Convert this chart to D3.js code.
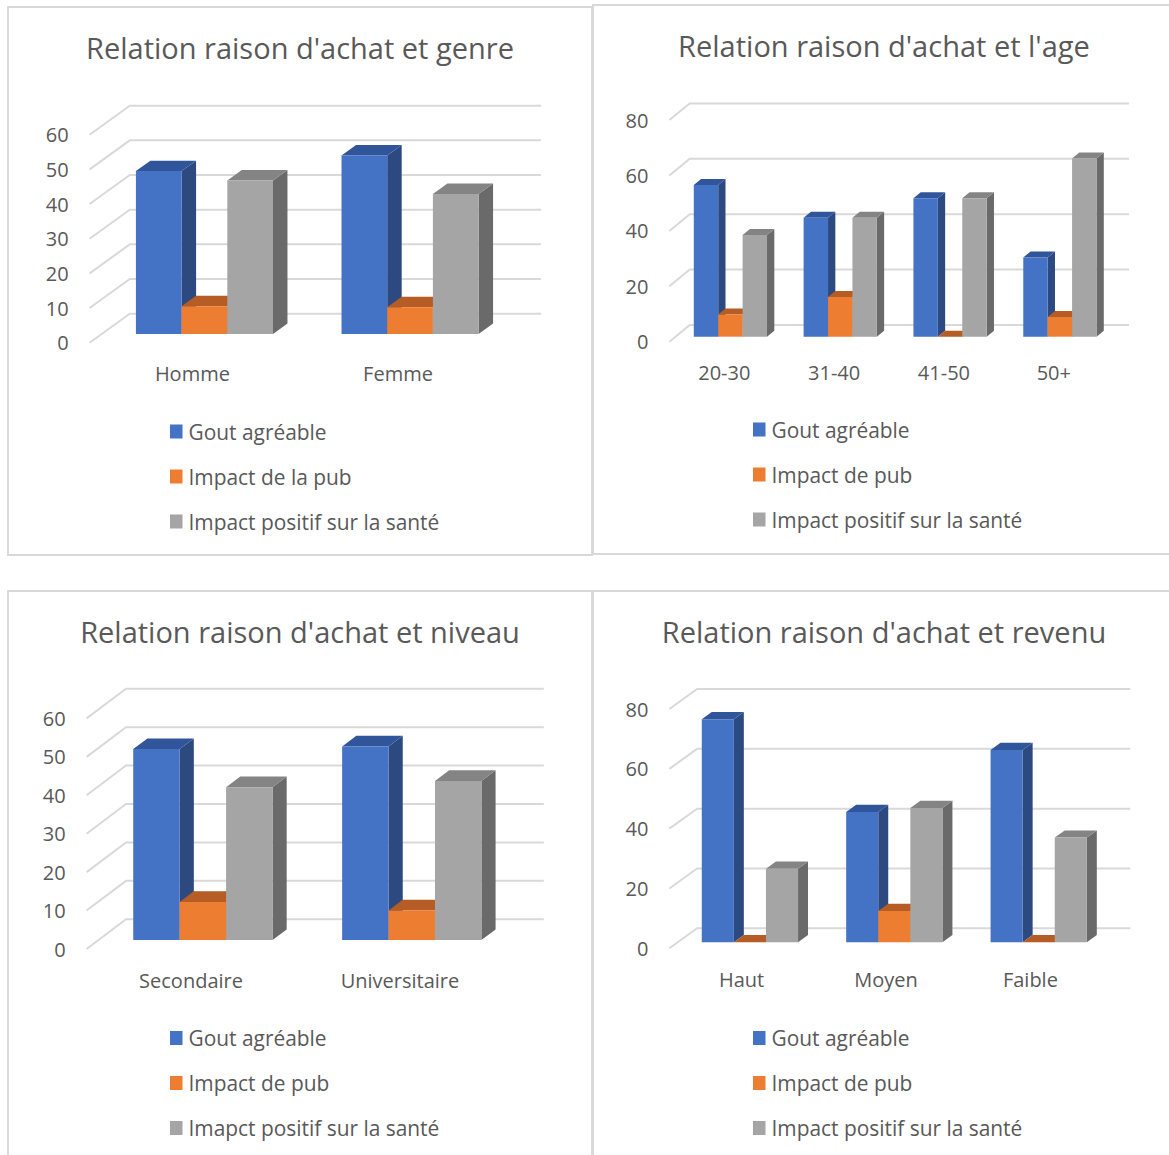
<!DOCTYPE html>
<html>
<head>
<meta charset="utf-8">
<script src="https://cdn.jsdelivr.net/npm/d3@7"></script>
<style>
  html, body { margin: 0; padding: 0; background: #fff; }
  svg { display: block; }
  text { font-family: "Open Sans", sans-serif; fill: #595959; }
</style>
</head>
<body>
<svg id="chart" width="1169" height="1155"></svg>
<script>
// ---- Data ----
const seriesGenre  = ["Gout agréable", "Impact de la pub", "Impact positif sur la santé"];
const seriesAge    = ["Gout agréable", "Impact de pub", "Impact positif sur la santé"];
const seriesNiveau = ["Gout agréable", "Impact de pub", "Imapct positif sur la santé"];
const seriesRevenu = ["Gout agréable", "Impact de pub", "Impact positif sur la santé"];

const catsGenre  = ["Homme", "Femme"];
const catsAge    = ["20-30", "31-40", "41-50", "50+"];
const catsNiveau = ["Secondaire", "Universitaire"];
const catsRevenu = ["Haut", "Moyen", "Faible"];

const genreGout   = [47, 51.5];
const genrePub    = [8, 7.7];
const genreSante  = [44.3, 40.4];

const ageGout     = [54.8, 42.9, 50, 28.6];
const agePub      = [8, 14.3, 0, 7.1];
const ageSante    = [36.7, 42.9, 50, 64.3];

const niveauGout  = [49.7, 50.4];
const niveauPub   = [9.9, 7.7];
const niveauSante = [39.8, 41.4];

const revenuGout  = [74.6, 43.6, 64.3];
const revenuPub   = [0, 10.5, 0];
const revenuSante = [24.6, 44.9, 35];

const ticksGenre  = [0, 10, 20, 30, 40, 50, 60];
const ticksAge    = [0, 20, 40, 60, 80];
const ticksNiveau = [0, 10, 20, 30, 40, 50, 60];
const ticksRevenu = [0, 20, 40, 60, 80];

const titles = [
  "Relation raison d'achat et genre",
  "Relation raison d'achat et l'age",
  "Relation raison d'achat et niveau",
  "Relation raison d'achat et revenu"
];

// ---- Styling ----
const faceColors = [
  { front: "#4472C4", top: "#30559A", side: "#2C4A80" },
  { front: "#ED7D31", top: "#B55D24", side: "#A3521E" },
  { front: "#A5A5A5", top: "#848484", side: "#6A6A6A" }
];
const gridColor = "#d9d9d9";

// ---- Panel layout (frame, floor origin, plot size, depth vector) ----
const panels = [
  { title: titles[0], cats: catsGenre, series: seriesGenre, values: [genreGout, genrePub, genreSante], ticks: ticksGenre,
    frame: [8, 7, 584, 548], titleX: 300, titleY: 47,
    x0: 89.6, y0: 342.7, w: 411.2, h: 208, dx: 40.2, dy: -29, legendX: 170, legendY: 431.5 },
  { title: titles[1], cats: catsAge, series: seriesAge, values: [ageGout, agePub, ageSante], ticks: ticksAge,
    frame: [593, 5, 580, 549], titleX: 884, titleY: 45,
    x0: 669.4, y0: 341.7, w: 439.3, h: 221.6, dx: 20.3, dy: -16.7, legendX: 753, legendY: 429.5 },
  { title: titles[2], cats: catsNiveau, series: seriesNiveau, values: [niveauGout, niveauPub, niveauSante], ticks: ticksNiveau,
    frame: [8, 591, 584, 580], titleX: 300, titleY: 631.5,
    x0: 86.6, y0: 949, w: 417.8, h: 230.6, dx: 39.4, dy: -29.7, legendX: 170, legendY: 1038 },
  { title: titles[3], cats: catsRevenu, series: seriesRevenu, values: [revenuGout, revenuPub, revenuSante], ticks: ticksRevenu,
    frame: [593, 591, 580, 580], titleX: 884, titleY: 631.5,
    x0: 669.4, y0: 948.3, w: 433.2, h: 239.3, dx: 27.7, dy: -20, legendX: 753, legendY: 1038 }
];

const svg = d3.select("#chart");
const DEPTH_FRONT = 0.3, DEPTH_BACK = 0.66;

panels.forEach(p => {
  const g = svg.append("g");

  // chart frame
  g.append("rect")
    .attr("x", p.frame[0]).attr("y", p.frame[1])
    .attr("width", p.frame[2]).attr("height", p.frame[3])
    .attr("fill", "none").attr("stroke", gridColor).attr("stroke-width", 2);

  // title
  g.append("text")
    .attr("x", p.titleX).attr("y", p.titleY)
    .attr("text-anchor", "middle").attr("dominant-baseline", "central")
    .style("font-size", "29px")
    .text(p.title);

  const maxV = p.ticks[p.ticks.length - 1];
  const y = d3.scaleLinear().domain([0, maxV]).range([0, p.h]);
  const xCat = d3.scaleBand().domain(p.cats).range([0, p.w])
    .paddingInner(1 / 3).paddingOuter(1 / 6);
  const xSer = d3.scaleBand().domain(d3.range(p.series.length))
    .range([0, xCat.bandwidth()]).padding(0);

  // projected point: x along floor, value v, depth fraction f
  const pt = (x, v, f) => [p.x0 + x + f * p.dx, p.y0 - y(v) + f * p.dy];

  // gridlines: back wall lines + left wall diagonals
  const grid = g.append("g").attr("stroke", gridColor).attr("stroke-width", 2).attr("fill", "none");
  p.ticks.forEach(t => {
    const a = pt(0, t, 0), b = pt(0, t, 1), c = pt(p.w, t, 1);
    grid.append("path").attr("d", d3.line()([a, b, c]));
  });

  // value axis labels
  g.append("g").selectAll("text").data(p.ticks).join("text")
    .attr("x", p.x0 - 21)
    .attr("y", d => p.y0 - y(d))
    .attr("text-anchor", "end").attr("dominant-baseline", "central")
    .style("font-size", "20px")
    .text(d => d);

  // category labels
  g.append("g").selectAll("text").data(p.cats).join("text")
    .attr("x", d => p.x0 + xCat(d) + xCat.bandwidth() / 2)
    .attr("y", p.y0 + 31)
    .attr("text-anchor", "middle").attr("dominant-baseline", "central")
    .style("font-size", "20px")
    .text(d => d);

  // 3D columns, drawn left to right so nearer faces overlap correctly
  const bars = g.append("g");
  const poly = pts => d3.line()(pts) + "Z";
  p.cats.forEach((cat, ci) => {
    p.series.forEach((s, si) => {
      const v = p.values[si][ci];
      const xl = xCat(cat) + xSer(si);
      const xr = xl + xSer.bandwidth();
      const col = faceColors[si];
      if (v > 0) {
        bars.append("path").attr("fill", col.side)
          .attr("d", poly([pt(xr, 0, DEPTH_FRONT), pt(xr, 0, DEPTH_BACK), pt(xr, v, DEPTH_BACK), pt(xr, v, DEPTH_FRONT)]));
      }
      bars.append("path").attr("fill", col.top)
        .attr("d", poly([pt(xl, v, DEPTH_FRONT), pt(xr, v, DEPTH_FRONT), pt(xr, v, DEPTH_BACK), pt(xl, v, DEPTH_BACK)]));
      if (v > 0) {
        bars.append("path").attr("fill", col.front)
          .attr("d", poly([pt(xl, 0, DEPTH_FRONT), pt(xr, 0, DEPTH_FRONT), pt(xr, v, DEPTH_FRONT), pt(xl, v, DEPTH_FRONT)]));
      }
    });
  });

  // legend
  const leg = g.append("g");
  p.series.forEach((s, si) => {
    const cy = p.legendY + si * 45;
    leg.append("rect")
      .attr("x", p.legendX).attr("y", cy - 7)
      .attr("width", 12.5).attr("height", 14)
      .attr("fill", faceColors[si].front);
    leg.append("text")
      .attr("x", p.legendX + 18.5).attr("y", cy)
      .attr("dominant-baseline", "central")
      .style("font-size", "20.9px")
      .text(s);
  });
});
</script>
</body>
</html>
